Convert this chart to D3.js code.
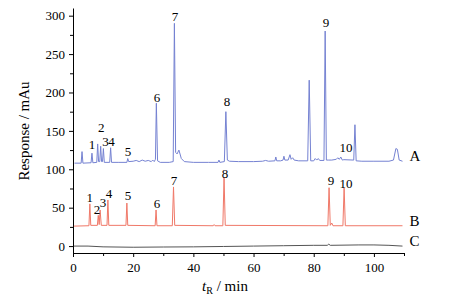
<!DOCTYPE html>
<html>
<head>
<meta charset="utf-8">
<script src="https://cdn.jsdelivr.net/npm/d3@7"></script>
<style>
  body { margin: 0; background: #fff; }
</style>
</head>
<body>
<div id="chart"></div>
<script>
// chromatogram traces, [time (min), response (mAu)]
const traceA = [[0.5,108],[2.7,108],[3,123],[3.3,108],[6,108.5],[6.3,121],[6.6,108.5],[7.9,109],[8.2,133],[8.5,110],
  [8.9,110],[9.2,130],[9.5,110],[9.8,110],[10.1,127],[10.4,109],[12.2,109],[12.5,128],[12.8,109],[15,109],
  [17.9,109],[18.2,114],[18.5,110],[20,110.5],[21,111.5],[22,110],[23,112],[24,110.5],[25,111.5],[26,110],
  [26.5,112],[27,110],[27.4,113],[27.7,186],[28.1,111],[29,109],[32,109],[33.3,110],[33.7,290],[34.1,122],
  [34.6,120],[35.2,125],[36,114],[37,110],[40,109],[45,109],[48.2,109],[48.5,112],[48.8,109],[50.3,110],
  [50.8,175],[51.3,112],[52,110.5],[55,110],[60,110],[63,110.5],[64,111.5],[65,110.5],[67.1,111],[67.4,116],
  [67.7,111],[69,111],[69.8,112],[70.1,117],[70.4,112],[71.5,112],[72.1,119],[72.5,113],[73,115],[73.5,112],
  [75,111],[78,111],[78.5,216],[79,111],[80,111],[80.5,114],[81,112],[81.5,114],[82,111.5],[83.4,111.5],
  [83.8,280],[84.2,112],[85,112],[86,112],[87.5,113],[88,115],[88.5,113],[89,116],[89.5,112],[90,112.5],
  [93.3,112],[93.7,158],[94.1,111],[96,110.5],[100,110.5],[105,110.5],[106.5,112],[107.3,127],[107.8,126],
  [108.4,112],[109.5,110.5]];
const traceB = [[0.3,26],[5.3,26.5],[5.6,55],[5.9,27],[8.1,27],[8.4,40],[8.7,28],[9.0,47],[9.4,27],[11.3,27],
  [11.6,60],[11.9,27],[17.6,27],[17.9,56],[18.2,27],[27.3,26.5],[27.6,47],[27.9,26.5],[33.0,26.5],[33.4,77],
  [33.8,27],[46.6,26.5],[46.9,28],[47.2,26.5],[49.8,26.5],[50.2,89],[50.6,27],[84.7,26.5],[85.1,76],[85.5,27],
  [86,30],[86.4,26.5],[89.7,26.5],[90.1,76],[90.5,26.5],[109.5,26.5]];
const traceC = [[0.3,0],[5,0],[10,-1],[20,-1.5],[30,-1.2],[40,-1],[50,-0.5],[60,0],[70,0.5],[80,1],
  [84.5,1],[85,2.5],[85.5,1],[95,1.5],[100,1.5],[105,1],[109.5,0]];

const traceNames = ["A", "B", "C"];

// peak numbers, [label, time, response]
const peakLabelsA = [["1",6.3,132],["2",9.4,155],["3",10.8,136],["4",12.8,136],["5",18.3,123],
  ["6",27.9,193],["7",33.9,299],["8",51.2,188],["9",84.1,291],["10",90.7,128]];
const peakLabelsB = [["1",5.6,63],["2",8.0,47],["3",10.0,57],["4",12.0,68],["5",18.3,66],
  ["6",27.9,56],["7",33.6,85],["8",50.5,95],["9",85.7,85],["10",90.7,82]];

const xTicks = [0, 20, 40, 60, 80, 100];
const yTicks = [0, 50, 100, 150, 200, 250, 300];

const serif = "'Liberation Serif', 'Times New Roman', serif";
const width = 451, height = 299;
const svg = d3.select("#chart").append("svg")
    .attr("width", width)
    .attr("height", height)
    .style("font-family", serif);

const x = d3.scaleLinear().domain([0, 110]).range([73, 404]);
const y = d3.scaleLinear().domain([-9, 310]).range([253, 8]);

// minor ticks
const xMinor = d3.range(10, 111, 20);
const yMinor = d3.range(25, 300, 50);

svg.append("g")
    .attr("transform", `translate(0, ${y(-9)})`)
    .call(d3.axisBottom(x).tickValues(xMinor).tickSize(3).tickFormat(""))
    .call(g => g.select(".domain").remove());
svg.append("g")
    .attr("transform", `translate(0, ${y(-9)})`)
    .call(d3.axisBottom(x).tickValues(xTicks).tickSize(4).tickSizeOuter(0).tickPadding(6))
    .call(g => g.attr("font-family", null).attr("font-size", null))
    .call(g => g.selectAll("text").style("font-size", "13px").style("font-family", serif).attr("fill", "#000"));

svg.append("g")
    .attr("transform", `translate(${x(0)}, 0)`)
    .call(d3.axisLeft(y).tickValues(yMinor).tickSize(3).tickFormat(""))
    .call(g => g.select(".domain").remove());
svg.append("g")
    .attr("transform", `translate(${x(0)}, 0)`)
    .call(d3.axisLeft(y).tickValues(yTicks).tickSize(4).tickSizeOuter(0).tickPadding(4))
    .call(g => g.attr("font-family", null).attr("font-size", null))
    .call(g => g.selectAll("text").style("font-size", "13px").style("font-family", serif).attr("fill", "#000"));

// traces
const line = d3.line().x(d => x(d[0])).y(d => y(d[1]));
const traces = [traceA, traceB, traceC];
const colors = ["#7582d2", "#f07868", "#555555"];

traces.forEach((t, i) => {
  svg.append("path")
      .datum(t)
      .attr("fill", "none")
      .attr("stroke", colors[i])
      .attr("stroke-width", 1)
      .attr("d", line);

  const last = t[t.length - 1];
  svg.append("text")
      .attr("x", x(last[0]) + 7)
      .attr("y", y(last[1]) - 5)
      .attr("dominant-baseline", "central")
      .style("font-size", "15px")
      .text(traceNames[i]);
});

// peak numbers
[peakLabelsA, peakLabelsB].forEach(labels => {
  svg.append("g").selectAll("text")
      .data(labels)
      .enter()
      .append("text")
      .attr("x", d => x(d[1]))
      .attr("y", d => y(d[2]))
      .attr("text-anchor", "middle")
      .attr("dominant-baseline", "central")
      .style("font-size", "13px")
      .text(d => d[0]);
});

// axis titles
svg.append("text")
    .attr("transform", "translate(24, 131) rotate(-90)")
    .attr("text-anchor", "middle")
    .attr("dominant-baseline", "central")
    .style("font-size", "15px")
    .text("Response / mAu");

const xt = svg.append("text")
    .attr("x", 225)
    .attr("y", 291)
    .attr("text-anchor", "middle")
    .style("font-size", "15px");
xt.append("tspan").style("font-style", "italic").text("t");
xt.append("tspan").attr("dy", 3).style("font-size", "10px").text("R");
xt.append("tspan").attr("dy", -3).text(" / min");
</script>
</body>
</html>
